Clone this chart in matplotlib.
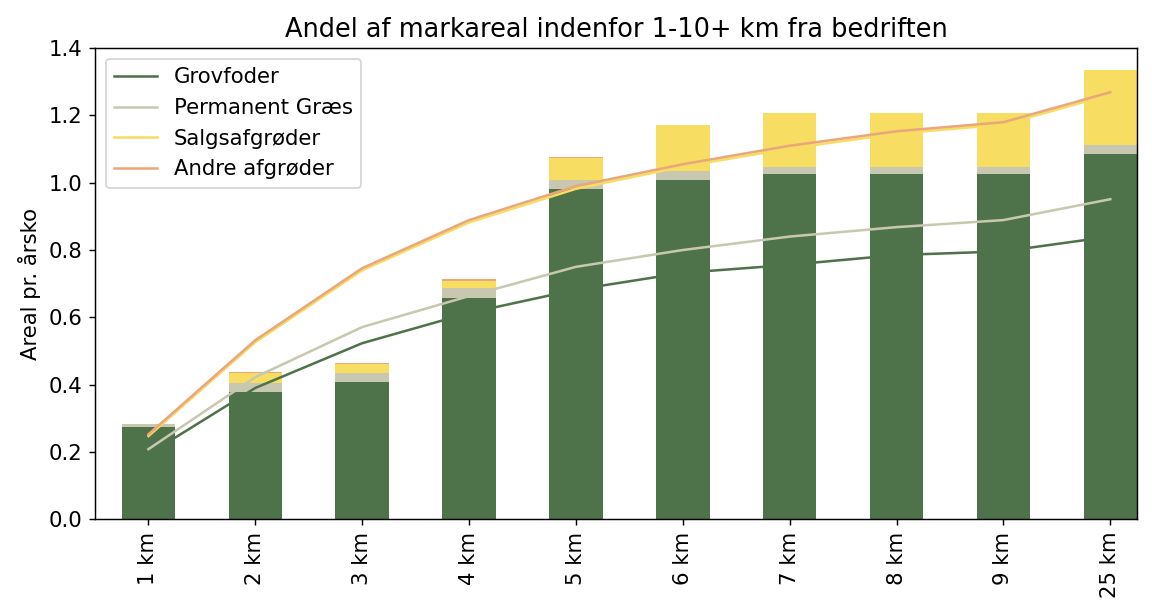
import numpy as np
import matplotlib
matplotlib.use("Agg")
import matplotlib.pyplot as plt

# Kategorier (afstand fra bedriften)
afstande = ["1 km", "2 km", "3 km", "4 km", "5 km", "6 km", "7 km", "8 km", "9 km", "25 km"]

# Stablede søjler (areal pr. årsko)
grovfoder = [0.273, 0.378, 0.407, 0.657, 0.981, 1.008, 1.025, 1.025, 1.025, 1.085]
perm_graes = [0.009, 0.026, 0.027, 0.030, 0.027, 0.026, 0.023, 0.021, 0.021, 0.027]
salg = [0.000, 0.030, 0.027, 0.020, 0.065, 0.137, 0.159, 0.161, 0.161, 0.223]
andre = [0.001, 0.003, 0.003, 0.006, 0.003, 0.001, 0.001, 0.001, 0.001, 0.001]

# Linjer (kumulative værdier)
linje_grovfoder = [0.193, 0.390, 0.523, 0.613, 0.682, 0.732, 0.756, 0.785, 0.796, 0.840]
linje_graes = [0.208, 0.422, 0.571, 0.663, 0.750, 0.800, 0.840, 0.868, 0.889, 0.951]
linje_salg = [0.247, 0.526, 0.740, 0.882, 0.982, 1.048, 1.102, 1.146, 1.173, 1.262]
linje_andre = [0.252, 0.532, 0.746, 0.889, 0.990, 1.055, 1.110, 1.153, 1.180, 1.269]

navne = ["Grovfoder", "Permanent Græs", "Salgsafgrøder", "Andre afgrøder"]
farver = ["#4e7249", "#c8c8b0", "#f7dd62", "#e9a77b"]

plt.rcParams["font.size"] = 11.8

x = np.arange(len(afstande))

fig = plt.figure(figsize=(1152 / 130, 610 / 130), dpi=130)
ax = fig.add_axes([0.0825, 0.149, 0.9045, 0.772])

# søjler
bund = np.zeros(len(afstande))
for vaerdier, farve in zip([grovfoder, perm_graes, salg, andre], farver):
    ax.bar(x, vaerdier, width=0.5, bottom=bund, color=farve, zorder=2)
    bund = bund + np.array(vaerdier)

# linjer
for vaerdier, farve, navn in zip([linje_grovfoder, linje_graes, linje_salg, linje_andre], farver, navne):
    ax.plot(x, vaerdier, color=farve, lw=1.4, label=navn, zorder=3)

ax.set_xlim(-0.5, 9.25)
ax.set_ylim(0, 1.4)
ax.set_yticks(np.arange(0, 1.41, 0.2))
ax.set_xticks(x)
ax.set_xticklabels(afstande, rotation=90)
ax.set_ylabel("Areal pr. årsko")
ax.set_title("Andel af markareal indenfor 1-10+ km fra bedriften", fontsize=14.2)
ax.legend(loc="upper left")

fig.savefig("out.png", dpi=130)
